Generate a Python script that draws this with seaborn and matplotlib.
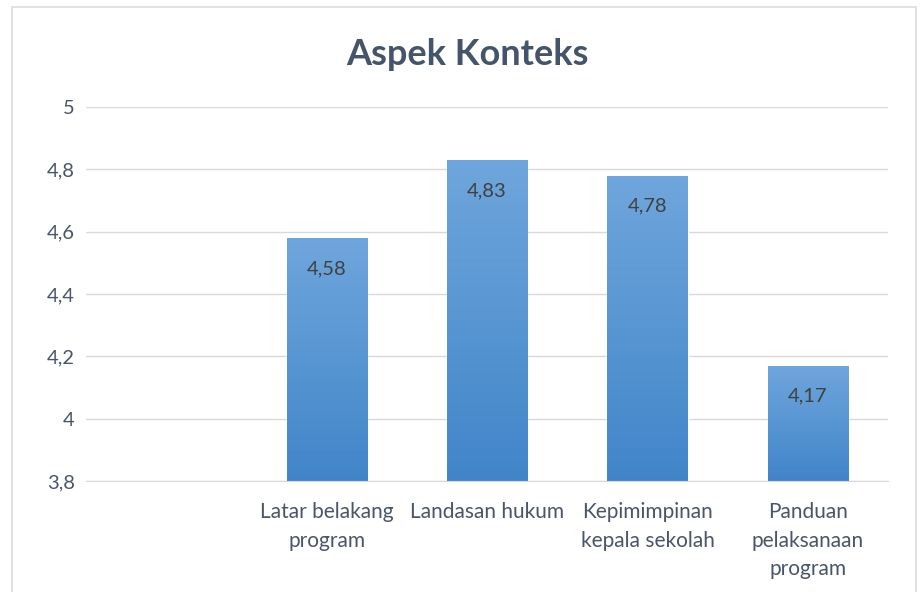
import matplotlib
matplotlib.use("Agg")
import matplotlib.pyplot as plt
import numpy as np
import pandas as pd
import seaborn as sns
from matplotlib.patches import Rectangle

# data
categories = ["Latar belakang\nprogram", "Landasan hukum", "Kepimimpinan\nkepala sekolah",
              "Panduan\npelaksanaan\nprogram"]
scores = [4.58, 4.83, 4.78, 4.17]
y_ticks = [3.8, 4.0, 4.2, 4.4, 4.6, 4.8, 5.0]
title = "Aspek Konteks"

df = pd.DataFrame({"aspek": categories, "skor": scores})
order = [" "] + categories  # first slot is empty in the original

sns.set_style("white")
plt.rcParams["font.family"] = ["Lato", "DejaVu Sans"]

fig = plt.figure(figsize=(9.23, 5.92), dpi=100)
ax = fig.add_axes([0.0932, 0.1875, 0.869, 0.6315])

# chart border
fig.patches.append(Rectangle((12 / 923, -0.01), (916 - 12) / 923, 1 - 7 / 592 + 0.01,
                             transform=fig.transFigure, fill=False,
                             edgecolor="#d9dde3", linewidth=1.2))

sns.barplot(data=df, x="aspek", y="skor", order=order, color="#5b9bd5",
            width=0.5, ax=ax, zorder=2)

ax.set_ylim(3.8, 5.0)
ax.set_yticks(y_ticks)
ax.set_yticklabels([f"{v:g}".replace(".", ",") for v in y_ticks])
ax.set_xlabel("")
ax.set_ylabel("")
ax.yaxis.grid(True, color="#d9d9d9", linewidth=1, zorder=0)
ax.set_axisbelow(True)
for s in ["top", "right", "left"]:
    ax.spines[s].set_visible(False)
ax.spines["bottom"].set_color("#d9d9d9")
ax.tick_params(axis="both", length=0, labelsize=14.5, colors="#4a5568", pad=8)
ax.tick_params(axis="x", pad=15, labelsize=15)
for lbl in ax.get_xticklabels():
    lbl.set_linespacing(1.55)

# gradient fill on each bar (light at top, darker at bottom)
grad = np.linspace(0, 1, 256).reshape(-1, 1)
cmap = matplotlib.colors.LinearSegmentedColormap.from_list("bar", ["#4185c9", "#6fa6dc"])
for p in ax.patches:
    x0, y0 = p.get_x(), p.get_y()
    w, h = p.get_width(), p.get_height()
    if np.isnan(h) or h == 0:
        continue
    im = ax.imshow(grad, cmap=cmap, aspect="auto", origin="lower",
                   extent=[x0, x0 + w, 3.8, y0 + h], zorder=2.5)
    im.set_clip_path(p)

# value labels inside the bars
for i, (cat, v) in enumerate(zip(categories, scores)):
    ax.annotate(f"{v:.2f}".replace(".", ","), (i + 1, v), xytext=(0, -22),
                textcoords="offset points", ha="center", va="center",
                fontsize=14.5, color="#404040", zorder=3)

ax.set_xlim(-0.5, 4.5)
fig.text(0.506, 0.908, title, ha="center", va="center", fontsize=26,
         fontweight="bold", color="#44546a")

fig.savefig("out.png", dpi=100)
